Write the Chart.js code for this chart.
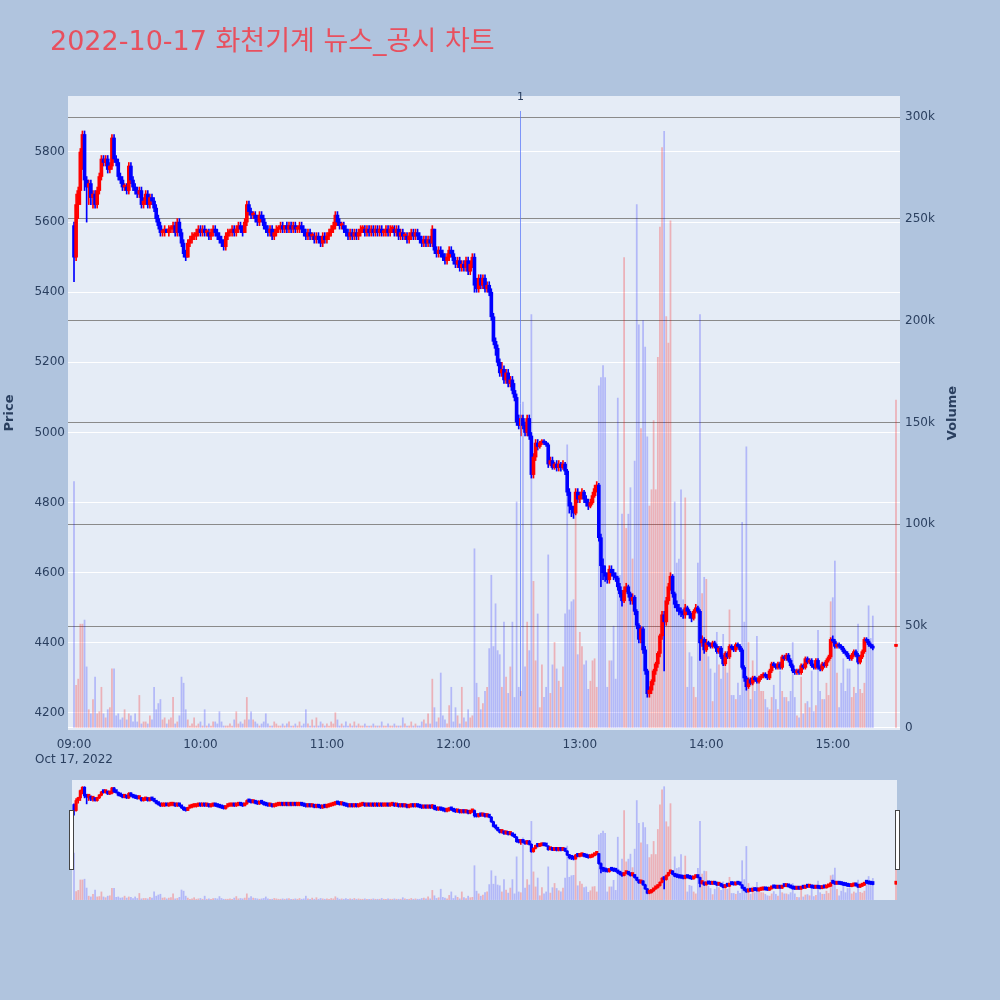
<!DOCTYPE html>
<html><head><meta charset="utf-8">
<script src="https://cdn.jsdelivr.net/npm/chart.js@4/dist/chart.umd.min.js"></script>
<style>
html,body{margin:0;padding:0;background:#b0c4de;width:1000px;height:1000px;overflow:hidden}
#main{position:absolute;left:0;top:0}
#slider{position:absolute;left:72px;top:780px}
.handle{position:absolute;top:810px;width:3px;height:58px;background:#fff;border:1px solid #444}
</style></head>
<body>
<canvas id="main" width="1000" height="780"></canvas>
<canvas id="slider" width="825" height="120"></canvas>
<div class="handle" style="left:69px"></div>
<div class="handle" style="left:895px"></div>
<script>
const TITLE = '2022-10-17 화천기계 뉴스_공시 차트';
const DATE_LABEL = 'Oct 17, 2022';
const X_TICKS = [0,60,120,180,240,300,360];
const X_TICK_LABELS = ['09:00','10:00','11:00','12:00','13:00','14:00','15:00'];
const PRICE_TICKS = [4200,4400,4600,4800,5000,5200,5400,5600,5800];
const VOLUME_TICKS = [0,50000,100000,150000,200000,250000,300000];
const VOLUME_TICK_LABELS = ['0','50k','100k','150k','200k','250k','300k'];
const NEWS_TIMES = [211.6];
const NEWS_LABELS = ['1'];
const NEWS_LOW = [4248];
const NEWS_HIGH = [5917];

const OPEN = [
5590,5500,5650,5690,5800,5850,5720,5700,5710,5670,
5680,5650,5690,5730,5780,5770,5780,5750,5760,5840,
5780,5770,5730,5720,5700,5700,5690,5760,5720,5700,
5690,5680,5690,5650,5660,5680,5650,5670,5660,5640,
5610,5590,5570,5570,5580,5570,5580,5580,5590,5570,
5600,5570,5540,5510,5500,5540,5550,5560,5560,5570,
5580,5570,5580,5570,5570,5560,5570,5580,5570,5560,
5550,5540,5530,5560,5570,5570,5580,5570,5580,5590,
5580,5570,5600,5650,5630,5620,5620,5610,5600,5620,
5610,5590,5580,5570,5580,5560,5570,5580,5580,5590,
5580,5590,5580,5590,5580,5590,5580,5580,5590,5580,
5570,5560,5570,5560,5560,5550,5560,5550,5540,5560,
5550,5560,5570,5580,5590,5620,5600,5590,5590,5580,
5570,5560,5570,5560,5570,5560,5570,5580,5580,5570,
5580,5570,5580,5570,5580,5570,5580,5570,5570,5580,
5570,5580,5580,5570,5580,5560,5570,5560,5560,5550,
5560,5570,5560,5570,5560,5550,5540,5550,5540,5550,
5540,5580,5520,5510,5520,5510,5500,5490,5500,5520,
5510,5490,5480,5490,5470,5480,5470,5490,5460,5480,
5500,5420,5410,5440,5420,5440,5410,5420,5400,5330,
5260,5240,5200,5170,5180,5150,5170,5140,5150,5120,
5100,5030,5020,5040,5020,5000,5040,4990,4880,4930,
4970,4960,4970,4975,4970,4965,4910,4920,4900,4910,
4900,4910,4900,4910,4890,4830,4790,4780,4770,4830,
4810,4820,4830,4810,4800,4790,4800,4820,4840,4850,
4700,4620,4600,4590,4580,4610,4600,4590,4585,4560,
4540,4520,4550,4560,4540,4520,4530,4490,4450,4410,
4440,4380,4320,4255,4265,4290,4320,4340,4370,4420,
4480,4460,4520,4560,4590,4540,4510,4500,4490,4485,
4480,4500,4490,4480,4470,4490,4500,4490,4400,4410,
4380,4400,4395,4390,4400,4390,4375,4385,4360,4340,
4370,4360,4390,4385,4380,4395,4390,4380,4330,4300,
4275,4295,4285,4300,4295,4290,4300,4305,4310,4305,
4300,4320,4340,4335,4330,4340,4330,4360,4355,4365,
4350,4335,4320,4315,4320,4315,4335,4330,4355,4345,
4350,4335,4330,4350,4330,4325,4340,4335,4350,4360,
4410,4405,4390,4395,4390,4385,4375,4370,4360,4355,
4365,4375,4365,4345,4360,4375,4410,4405,4395,4390,
4390];
const HIGH = [
5600,5680,5700,5810,5860,5860,5730,5720,5720,5690,
5690,5700,5740,5790,5790,5790,5790,5770,5850,5850,
5790,5780,5740,5730,5710,5710,5770,5770,5730,5710,
5700,5700,5700,5670,5690,5690,5680,5680,5670,5650,
5620,5600,5580,5590,5580,5590,5590,5600,5600,5610,
5610,5580,5550,5520,5550,5560,5570,5570,5580,5590,
5590,5590,5590,5580,5580,5580,5590,5590,5580,5570,
5560,5550,5570,5580,5580,5590,5590,5590,5600,5600,
5590,5610,5660,5660,5640,5630,5630,5620,5630,5630,
5620,5600,5590,5590,5590,5580,5590,5590,5600,5600,
5590,5600,5600,5600,5600,5600,5590,5600,5600,5590,
5580,5580,5580,5570,5570,5570,5570,5560,5570,5570,
5570,5580,5590,5600,5630,5630,5610,5600,5600,5590,
5580,5580,5580,5580,5580,5580,5590,5590,5590,5590,
5590,5590,5590,5590,5590,5590,5590,5580,5590,5590,
5590,5590,5590,5590,5590,5580,5580,5570,5570,5570,
5580,5580,5580,5580,5570,5560,5560,5560,5560,5560,
5590,5580,5530,5530,5530,5520,5510,5510,5530,5530,
5520,5500,5500,5500,5490,5490,5500,5500,5490,5510,
5510,5440,5450,5450,5450,5450,5430,5430,5410,5340,
5270,5250,5210,5200,5190,5180,5180,5160,5160,5140,
5110,5050,5050,5050,5030,5050,5050,5000,4940,4980,
4980,4975,4980,4980,4975,4970,4930,4930,4915,4920,
4920,4915,4920,4915,4895,4840,4800,4790,4840,4840,
4830,4840,4835,4820,4810,4810,4830,4850,4860,4855,
4710,4640,4620,4600,4620,4620,4610,4600,4590,4570,
4550,4560,4570,4565,4545,4540,4535,4495,4455,4445,
4445,4390,4325,4275,4295,4325,4345,4375,4425,4490,
4490,4530,4570,4600,4595,4545,4520,4510,4500,4495,
4510,4505,4495,4485,4495,4510,4505,4495,4420,4415,
4410,4405,4400,4405,4405,4395,4390,4390,4365,4375,
4375,4395,4395,4390,4400,4400,4395,4385,4335,4305,
4300,4300,4305,4305,4300,4305,4310,4315,4315,4310,
4325,4345,4345,4340,4345,4345,4365,4365,4370,4370,
4355,4340,4325,4325,4325,4340,4340,4360,4360,4355,
4355,4340,4355,4355,4335,4345,4345,4355,4365,4415,
4420,4410,4400,4400,4395,4390,4380,4375,4365,4370,
4380,4380,4370,4365,4380,4415,4415,4410,4400,4395,
4395];
const LOW = [
5430,5490,5610,5650,5750,5690,5600,5650,5650,5640,
5640,5640,5680,5720,5760,5760,5740,5740,5750,5770,
5760,5720,5710,5690,5690,5680,5680,5710,5690,5680,
5670,5670,5640,5640,5650,5640,5640,5650,5630,5600,
5580,5560,5560,5560,5570,5560,5570,5570,5560,5560,
5560,5530,5500,5490,5500,5530,5540,5550,5550,5560,
5560,5560,5560,5560,5550,5550,5560,5560,5550,5540,
5530,5520,5520,5550,5560,5560,5560,5560,5570,5570,
5560,5570,5590,5620,5610,5610,5600,5590,5590,5600,
5580,5570,5560,5560,5550,5550,5560,5570,5570,5570,
5570,5570,5570,5570,5570,5570,5570,5570,5570,5560,
5550,5550,5550,5550,5540,5540,5540,5530,5530,5540,
5540,5550,5560,5570,5580,5590,5580,5580,5570,5560,
5550,5550,5550,5550,5550,5550,5560,5570,5560,5560,
5560,5560,5560,5560,5560,5560,5560,5560,5560,5560,
5560,5570,5560,5560,5550,5550,5550,5550,5540,5540,
5550,5550,5550,5550,5540,5530,5530,5530,5530,5530,
5530,5510,5500,5500,5500,5490,5480,5480,5490,5500,
5480,5470,5470,5460,5460,5460,5460,5450,5450,5470,
5400,5400,5400,5410,5410,5400,5400,5390,5320,5250,
5220,5190,5160,5160,5140,5140,5130,5130,5110,5090,
5020,5010,4990,5010,4990,4990,4980,4870,4870,4920,
4950,4955,4965,4965,4960,4900,4905,4895,4895,4890,
4890,4890,4895,4880,4820,4770,4760,4755,4765,4800,
4800,4810,4800,4790,4780,4785,4795,4815,4830,4690,
4560,4580,4575,4570,4570,4590,4580,4575,4550,4530,
4505,4515,4545,4530,4510,4510,4480,4440,4400,4400,
4370,4310,4245,4245,4255,4280,4310,4330,4360,4410,
4320,4450,4510,4550,4530,4500,4490,4480,4475,4470,
4470,4480,4470,4460,4465,4485,4485,4350,4390,4370,
4375,4390,4385,4385,4385,4370,4370,4355,4335,4335,
4355,4355,4380,4375,4375,4385,4375,4325,4290,4265,
4270,4280,4280,4290,4285,4285,4295,4300,4300,4295,
4295,4315,4330,4325,4325,4325,4325,4350,4350,4345,
4330,4315,4310,4310,4310,4310,4325,4325,4340,4340,
4330,4325,4325,4325,4320,4320,4330,4330,4345,4355,
4400,4385,4385,4385,4380,4370,4365,4355,4350,4350,
4360,4360,4340,4340,4355,4370,4400,4390,4385,4380,
4390];
const CLOSE = [
5500,5650,5690,5800,5850,5720,5700,5710,5670,5680,
5650,5690,5730,5780,5770,5780,5750,5760,5840,5780,
5770,5730,5720,5700,5700,5690,5760,5720,5700,5690,
5680,5690,5650,5660,5680,5650,5670,5660,5640,5610,
5590,5570,5570,5580,5570,5580,5580,5590,5570,5600,
5570,5540,5510,5500,5540,5550,5560,5560,5570,5580,
5570,5580,5570,5570,5560,5570,5580,5570,5560,5550,
5540,5530,5560,5570,5570,5580,5570,5580,5590,5580,
5570,5600,5650,5630,5620,5620,5610,5600,5620,5610,
5590,5580,5570,5580,5560,5570,5580,5580,5590,5580,
5590,5580,5590,5580,5590,5580,5580,5590,5580,5570,
5560,5570,5560,5560,5550,5560,5550,5540,5560,5550,
5560,5570,5580,5590,5620,5600,5590,5590,5580,5570,
5560,5570,5560,5570,5560,5570,5580,5580,5570,5580,
5570,5580,5570,5580,5570,5580,5570,5570,5580,5570,
5580,5580,5570,5580,5560,5570,5560,5560,5550,5560,
5570,5560,5570,5560,5550,5540,5550,5540,5550,5540,
5580,5520,5510,5520,5510,5500,5490,5500,5520,5510,
5490,5480,5490,5470,5480,5470,5490,5460,5480,5500,
5420,5410,5440,5420,5440,5410,5420,5400,5330,5260,
5240,5200,5170,5180,5150,5170,5140,5150,5120,5100,
5030,5020,5040,5020,5000,5040,4990,4880,4930,4970,
4960,4970,4975,4970,4965,4910,4920,4900,4910,4900,
4910,4900,4910,4890,4830,4790,4780,4770,4830,4810,
4820,4830,4810,4800,4790,4800,4820,4840,4850,4700,
4620,4600,4590,4580,4610,4600,4590,4585,4560,4540,
4520,4550,4560,4540,4520,4530,4490,4450,4410,4440,
4380,4320,4255,4265,4290,4320,4340,4370,4420,4480,
4460,4520,4560,4590,4540,4510,4500,4490,4485,4480,
4500,4490,4480,4470,4490,4500,4490,4400,4410,4380,
4400,4395,4390,4400,4390,4375,4385,4360,4340,4370,
4360,4390,4385,4380,4395,4390,4380,4330,4300,4275,
4295,4285,4300,4295,4290,4300,4305,4310,4305,4300,
4320,4340,4335,4330,4340,4330,4360,4355,4365,4350,
4335,4320,4315,4320,4315,4335,4330,4355,4345,4350,
4335,4330,4350,4330,4325,4340,4335,4350,4360,4410,
4405,4390,4395,4390,4385,4375,4370,4360,4355,4365,
4375,4365,4345,4360,4375,4410,4405,4395,4390,4385,
4395];
const VOLUME = [
121000,21000,24000,51000,51000,53000,30000,9000,7000,14000,
25000,7000,8000,20000,7000,5000,9000,10000,29000,29000,
6000,7000,4000,5000,9000,4000,7000,6000,3000,7000,
3000,16000,2000,3000,3000,2000,6000,4000,20000,9000,
12000,14000,4000,5000,2000,4000,5000,15000,2000,3000,
6000,25000,22000,9000,4000,1000,2000,5000,1000,2000,
3000,1000,9000,1000,2000,1000,3000,3000,2000,8000,
3000,1000,1000,1000,2000,1000,4000,8000,2000,3000,
2000,4000,15000,4000,8000,4000,3000,2000,1000,2000,
3000,7000,2000,1000,1000,3000,2000,1000,1000,2000,
1000,2000,3000,1000,1000,2000,1000,3000,1000,2000,
9000,2000,1000,4000,1000,5000,1000,3000,2000,1000,
2000,1000,3000,2000,7500,4000,1000,2000,1000,3000,
1000,2000,1000,3000,1000,2000,1000,1000,2000,1000,
1000,1000,2000,1000,1000,1000,3000,1000,1000,2000,
1000,1000,2000,1000,1000,1000,5000,2000,1000,1000,
3000,1000,2000,1000,1000,3000,4000,2000,7000,2000,
24000,10000,3000,5000,27000,6000,4000,2000,11000,20000,
3000,10000,6000,2000,20000,5000,3000,9000,5000,6000,
88000,22000,15000,9000,12000,18000,20000,39000,75000,40000,
61000,38000,36000,20000,52000,25000,17000,30000,52000,15000,
111000,20000,18000,160000,30000,52000,38000,203000,72000,33000,
56000,10000,31000,15000,20000,85000,17000,31000,42000,29000,
23000,20000,30000,56000,139000,58000,62000,63000,105000,36000,
47000,40000,31000,33000,19000,23000,33000,34000,20000,168000,
172000,178000,172000,20000,33000,33000,50000,24000,162000,75000,
105000,231000,98000,105000,118000,83000,131000,257000,198000,147000,
200000,187000,143000,109000,117000,151000,117000,182000,246000,285000,
293000,202000,189000,249000,75000,111000,81000,83000,117000,63000,
113000,20000,37000,35000,20000,15000,81000,203000,66000,74000,
73000,35000,29000,13000,27000,47000,31000,24000,46000,33000,
27000,58000,16000,16000,14000,22000,16000,101000,52000,138000,
42000,14000,33000,18000,45000,24000,18000,18000,14000,10000,
9000,15000,21000,14000,9000,28000,18000,15000,15000,13000,
18000,42000,15000,6000,5000,25000,7000,12000,13000,10000,
28000,8000,11000,48000,18000,14000,14000,22000,16000,62000,
64000,82000,27000,10000,22000,34000,18000,29000,29000,15000,
20000,17000,51000,19000,17000,22000,43000,60000,44000,55000,
161000];

// minutes after 09:00 for each candle (regular session 09:00-15:19, closing auction 15:30)
const TIMES = [];
for (let m = 0; m < 380; m++) TIMES.push(m);
TIMES.push(390);

const UP = '#ff0000', DOWN = '#0000ff';
const VOL_UP = 'rgba(255,0,0,0.25)', VOL_DOWN = 'rgba(0,0,255,0.22)';
const TEXT = '#2a3f5f';
const FONT = '"DejaVu Sans", "Noto Sans CJK KR", sans-serif';

const isUp = TIMES.map((t,i) => CLOSE[i] >= OPEN[i]);
const candleColors = isUp.map(u => u ? UP : DOWN);
const volColors = isUp.map(u => u ? VOL_UP : VOL_DOWN);

function datasets(bodyW, wickW, minLen, volW) {
  return [
    { type:'bar', label:'body', order:0, yAxisID:'y', grouped:false,
      data: TIMES.map((t,i)=>({x:t, y:[OPEN[i], CLOSE[i]]})),
      backgroundColor:candleColors, barThickness:bodyW, minBarLength:minLen, borderWidth:0 },
    { type:'bar', label:'wick', order:1, yAxisID:'y', grouped:false,
      data: TIMES.map((t,i)=>({x:t, y:[LOW[i], HIGH[i]]})),
      backgroundColor:candleColors, barThickness:wickW, minBarLength:1, borderWidth:0 },
    { type:'bar', label:'volume', order:2, yAxisID:'y2', grouped:false,
      data: TIMES.map((t,i)=>({x:t, y:VOLUME[i]})),
      backgroundColor:volColors, barThickness:volW, borderWidth:0 }
  ];
}

const bgPlugin = {
  id:'bg',
  beforeDraw(chart){
    const {ctx, chartArea:a} = chart;
    ctx.save(); ctx.fillStyle = '#e5ecf6';
    ctx.fillRect(a.left, a.top, a.right-a.left, a.bottom-a.top);
    ctx.restore();
  }
};

const decoPlugin = {
  id:'deco',
  afterDatasetsDraw(chart){
    const {ctx} = chart;
    const xs = chart.scales.x, ys = chart.scales.y;
    ctx.save();
    NEWS_TIMES.forEach((t,i)=>{
      const x = Math.round(xs.getPixelForValue(t)) + 0.5;
      ctx.strokeStyle = 'rgba(90,120,250,0.75)'; ctx.lineWidth = 1;
      ctx.beginPath();
      ctx.moveTo(x, ys.getPixelForValue(NEWS_HIGH[i]));
      ctx.lineTo(x, ys.getPixelForValue(NEWS_LOW[i]));
      ctx.stroke();
      ctx.fillStyle = TEXT; ctx.font = '11px ' + FONT;
      ctx.textAlign = 'center'; ctx.textBaseline = 'middle';
      ctx.fillText(NEWS_LABELS[i], x, 97);
    });
    ctx.restore();
  },
  afterDraw(chart){
    const {ctx} = chart;
    ctx.save();
    ctx.fillStyle = '#e8505e';
    ctx.font = '27px ' + FONT;
    ctx.textAlign = 'left'; ctx.textBaseline = 'alphabetic';
    ctx.fillText(TITLE, 50, 50);
    ctx.fillStyle = TEXT;
    ctx.font = 'bold 13px ' + FONT;
    ctx.textAlign = 'center'; ctx.textBaseline = 'middle';
    [['Price',10],['Volume',953]].forEach(([txt,x])=>{
      ctx.save(); ctx.translate(x, 413); ctx.rotate(-Math.PI/2);
      ctx.fillText(txt, 0, 0); ctx.restore();
    });
    ctx.restore();
  }
};

const tickFont = {family:FONT, size:12};

new Chart(document.getElementById('main'), {
  type:'bar',
  data:{ datasets: datasets(3, 1, 2, 1.1) },
  options:{
    responsive:false, animation:false, events:[],
    layout:{ padding:{ top:96, right:37, left:0, bottom:0 } },
    plugins:{ legend:{display:false}, tooltip:{enabled:false} },
    scales:{
      x:{ type:'linear', position:'bottom', min:-2.85, max:391.9, offset:false,
          grid:{display:false, drawTicks:false}, border:{display:false},
          afterBuildTicks(s){ s.ticks = X_TICKS.map(v=>({value:v})); },
          afterFit(s){ s.height = 50; },
          ticks:{ color:TEXT, font:tickFont, padding:8, autoSkip:false, maxRotation:0,
            callback(v){ const i = X_TICKS.indexOf(v); if (i<0) return '';
              return i===0 ? [X_TICK_LABELS[0], DATE_LABEL] : X_TICK_LABELS[i]; } } },
      y:{ position:'left', min:4151.5, max:5959.7,
          grid:{ color:'#ffffff', lineWidth:1, drawTicks:false }, border:{display:false},
          afterBuildTicks(s){ s.ticks = PRICE_TICKS.map(v=>({value:v})); },
          afterFit(s){ s.width = 68; },
          ticks:{ color:TEXT, font:tickFont, padding:3, callback(v){ return String(v); } } },
      y2:{ position:'right', min:-982, max:310311,
          grid:{ color:(c)=> c.tick && c.tick.value===0 ? '#ffffff' : '#8a8a8a', lineWidth:1, drawTicks:false },
          border:{display:false},
          afterBuildTicks(s){ s.ticks = VOLUME_TICKS.map(v=>({value:v})); },
          afterFit(s){ s.width = 63; },
          ticks:{ color:TEXT, font:tickFont, padding:5,
            callback(v){ const i = VOLUME_TICKS.indexOf(v); return i<0 ? '' : VOLUME_TICK_LABELS[i]; } } }
    }
  },
  plugins:[bgPlugin, decoPlugin]
});

new Chart(document.getElementById('slider'), {
  type:'bar',
  data:{ datasets: datasets(2.5, 1, 3, 1.1) },
  options:{
    responsive:false, animation:false, events:[],
    layout:{ padding:0 },
    plugins:{ legend:{display:false}, tooltip:{enabled:false} },
    scales:{
      x:{ type:'linear', display:false, min:-0.95, max:390.47, offset:false },
      y:{ display:false, min:4151.5, max:5959.7 },
      y2:{ display:false, min:-982, max:310311, position:'right' }
    }
  },
  plugins:[bgPlugin]
});
</script>
</body></html>
